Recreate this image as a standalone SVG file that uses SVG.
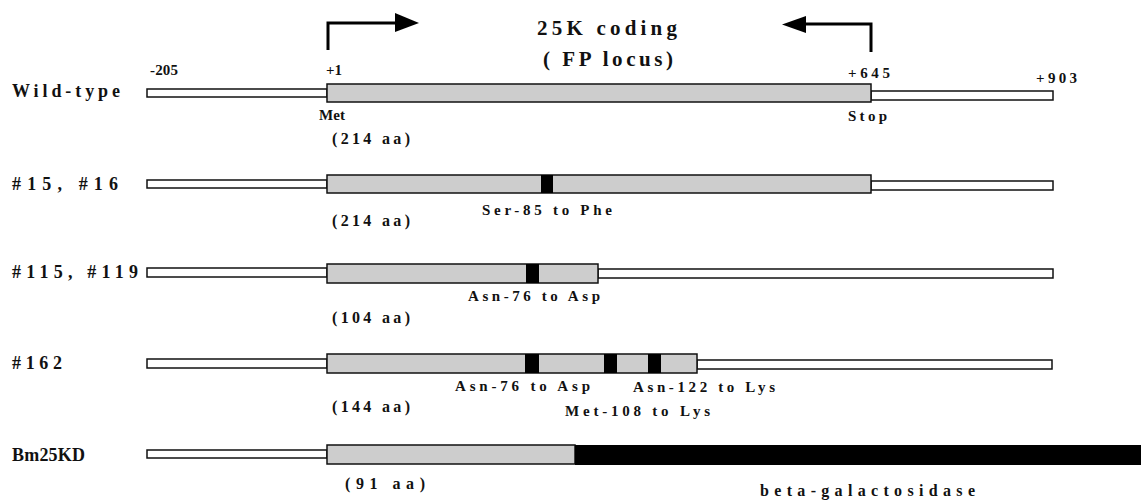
<svg xmlns="http://www.w3.org/2000/svg" width="1141" height="500" viewBox="0 0 1141 500">
<defs>
<style>
.t{font-family:"Liberation Serif","Times New Roman",serif;font-weight:bold;fill:#111;}
.s14{font-size:15px;}
.s15{font-size:16px;}
.s17{font-size:18px;}
.s20{font-size:21px;}
.thin{fill:#fff;stroke:#111;stroke-width:1.5;}
.cod{fill:#cdcdcd;stroke:#111;stroke-width:1.5;}
.mut{fill:#000;}
.arr{fill:none;stroke:#000;stroke-width:3;}
</style>
</defs>
<rect width="1141" height="500" fill="#fff"/>

<g id="connectors">
<path class="arr" d="M328,50 V23 H396"/>
<path d="M395,13 L419,23 L395,32 z" fill="#000"/>
<path class="arr" d="M871,52 V24 H805"/>
<path d="M806,16 L782,24.5 L806,33 z" fill="#000"/>
</g>

<g id="title">
<text class="t s20" x="537" y="35" textLength="140" lengthAdjust="spacing">25K coding</text>
<text class="t s20" x="543" y="66" textLength="130" lengthAdjust="spacing">( FP locus)</text>
</g>

<g id="wildtype">
<text class="t s17" x="12" y="97" textLength="108" lengthAdjust="spacing">Wild-type</text>
<text class="t s14" x="150" y="75" textLength="28" lengthAdjust="spacing">-205</text>
<text class="t s14" x="326" y="75">+1</text>
<text class="t s14" x="848" y="78" textLength="42" lengthAdjust="spacing">+645</text>
<text class="t s14" x="1036" y="83" textLength="41" lengthAdjust="spacing">+903</text>
<rect class="thin" x="147" y="89" width="180" height="8"/>
<rect class="thin" x="871" y="91" width="182" height="9"/>
<rect class="cod" x="327" y="84" width="544" height="18"/>
<text class="t s14" x="319" y="120" textLength="26" lengthAdjust="spacing">Met</text>
<text class="t s14" x="848" y="121" textLength="39" lengthAdjust="spacing">Stop</text>
<text class="t s15" x="332" y="144" textLength="78" lengthAdjust="spacing">(214 aa)</text>
</g>

<g id="mut15_16">
<text class="t s17" x="12" y="190" textLength="106" lengthAdjust="spacing">#15, #16</text>
<rect class="thin" x="147" y="180" width="180" height="8"/>
<rect class="thin" x="871" y="181" width="182" height="9"/>
<rect class="cod" x="327" y="175" width="544" height="18"/>
<rect class="mut" x="541" y="175" width="12" height="18"/>
<text class="t s14" x="482" y="215" textLength="130" lengthAdjust="spacing">Ser-85 to Phe</text>
<text class="t s15" x="332" y="226" textLength="78" lengthAdjust="spacing">(214 aa)</text>
</g>

<g id="mut115_119">
<text class="t s17" x="12" y="278" textLength="126" lengthAdjust="spacing">#115, #119</text>
<rect class="thin" x="147" y="268" width="180" height="9"/>
<rect class="thin" x="598" y="269" width="455" height="9"/>
<rect class="cod" x="327" y="264" width="271" height="19"/>
<rect class="mut" x="526" y="264" width="13" height="19"/>
<text class="t s14" x="468" y="301" textLength="132" lengthAdjust="spacing">Asn-76 to Asp</text>
<text class="t s15" x="332" y="323" textLength="78" lengthAdjust="spacing">(104 aa)</text>
</g>

<g id="mut162">
<text class="t s17" x="12" y="369" textLength="50" lengthAdjust="spacing">#162</text>
<rect class="thin" x="147" y="359" width="180" height="9"/>
<rect class="thin" x="697" y="360" width="355" height="9"/>
<rect class="cod" x="327" y="354" width="370" height="19"/>
<rect class="mut" x="525" y="354" width="14" height="19"/>
<rect class="mut" x="604" y="354" width="13" height="19"/>
<rect class="mut" x="648" y="354" width="13" height="19"/>
<text class="t s14" x="455" y="391" textLength="135" lengthAdjust="spacing">Asn-76 to Asp</text>
<text class="t s14" x="633" y="392" textLength="142" lengthAdjust="spacing">Asn-122 to Lys</text>
<text class="t s15" x="332" y="412" textLength="78" lengthAdjust="spacing">(144 aa)</text>
<text class="t s14" x="565" y="416" textLength="145" lengthAdjust="spacing">Met-108 to Lys</text>
</g>

<g id="bm25kd">
<text class="t s17" x="12" y="461" textLength="73" lengthAdjust="spacing">Bm25KD</text>
<rect class="thin" x="147" y="450" width="180" height="8"/>
<rect class="cod" x="327" y="445" width="248" height="19"/>
<rect class="mut" x="575" y="445" width="566" height="20"/>
<text class="t s15" x="345" y="489" textLength="80" lengthAdjust="spacing">(91 aa)</text>
<text class="t s15" x="760" y="496" textLength="215" lengthAdjust="spacing">beta-galactosidase</text>
</g>
</svg>
